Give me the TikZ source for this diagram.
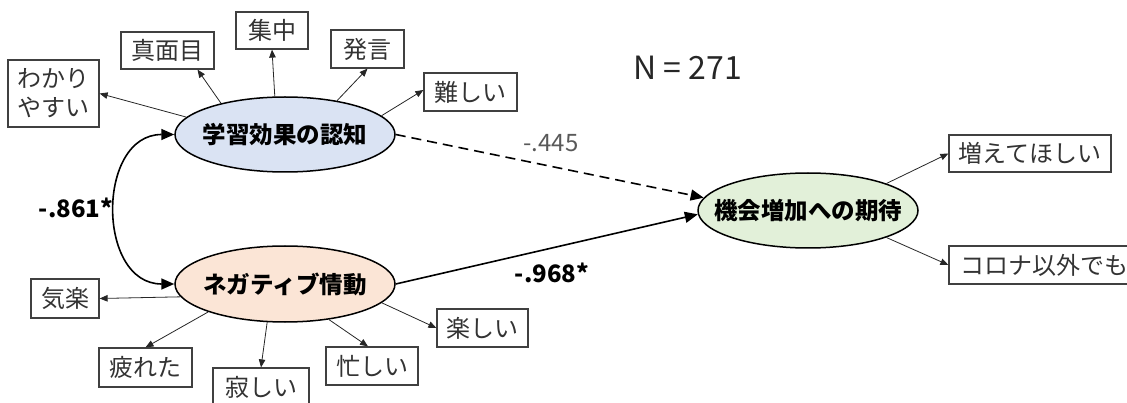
\documentclass[tikz,border=0pt]{standalone}
\usepackage{fontspec}
\setmainfont{Noto Sans CJK JP}
\usetikzlibrary{shapes.geometric,arrows.meta}
\definecolor{ebl}{HTML}{DAE3F3}
\definecolor{eor}{HTML}{FBE5D6}
\definecolor{egr}{HTML}{E2F0D9}
\definecolor{boxline}{HTML}{404040}
\definecolor{txt}{HTML}{333333}
\definecolor{lblgray}{HTML}{595959}
\begin{document}
\begin{tikzpicture}[x=1pt,y=-1pt,
  latent/.style={ellipse, draw=black, line width=1.5pt, minimum width=220pt, minimum height=75pt, inner sep=0pt},
  ltext/.style={font=\fontsize{23.5}{26}\selectfont\bfseries, inner sep=0pt},
  obs/.style={draw=boxline, line width=1.2pt, inner sep=0pt, text=txt, font=\fontsize{24}{29}\selectfont, align=center},
  thinarr/.style={-{Triangle[length=8pt,width=6.5pt]}, line width=0.8pt, black!85},
  mainarr/.style={-{Triangle[length=13pt,width=11pt]}, line width=1.6pt},
  biarr/.style={{Triangle[length=13pt,width=11pt]}-{Triangle[length=13pt,width=11pt]}, line width=1.6pt},
  coef/.style={font=\fontsize{24}{28}\selectfont, inner sep=0pt},
  coefbold/.style={font=\fontsize{24}{28}\selectfont\bfseries, inner sep=0pt}
]
\useasboundingbox (0,0) rectangle (1127,403);

% latent variables
\node[latent, fill=ebl] (e1) at (285,134.5) {};
\node[ltext] (e1t) at (e1) {学習効果の認知};
\node[latent, fill=eor, minimum height=76pt] (e2) at (285,284) {};
\node[ltext] (e2t) at (e2) {ネガティブ情動};
\node[latent, fill=egr] (e3) at (808,210.5) {};
\node[ltext] (e3t) at (e3) {機会増加への期待};

% observed variables
\node[obs, minimum width=91pt, minimum height=67pt] (wakari) at (53.5,93.5) {わかり\\やすい};
\node[obs, minimum width=93pt, minimum height=37pt] (majime) at (167.5,50.5) {真面目};
\node[obs, minimum width=72pt, minimum height=37pt] (shuchu) at (272,30.5) {集中};
\node[obs, minimum width=73pt, minimum height=38pt] (hatsugen) at (367.5,49) {発言};
\node[obs, minimum width=93pt, minimum height=38pt] (muzu) at (470.5,92) {難しい};

\node[obs, minimum width=68pt, minimum height=39pt] (kiraku) at (65,298.5) {気楽};
\node[obs, minimum width=93pt, minimum height=39pt] (tsuka) at (145.5,367.5) {疲れた};
\node[obs, minimum width=96pt, minimum height=39pt] (sabi) at (261,387.5) {寂しい};
\node[obs, minimum width=92pt, minimum height=38pt] (isog) at (372,366) {忙しい};
\node[obs, minimum width=91pt, minimum height=38pt] (tano) at (482.5,328) {楽しい};

\node[obs, minimum width=162pt, minimum height=37pt] (fuete) at (1030,153.5) {増えてほしい};
\node[obs, minimum width=186pt, minimum height=38pt, text width=186pt, align=left] (corona) at (1042,265) {\hspace*{11pt}コロナ以外でも};

% indicator arrows
\draw[thinarr] (e1.170) -- (wakari.east);
\draw[thinarr] (e1.154) -- ([xshift=30pt]majime.south);
\draw[thinarr] (e1.105) -- (shuchu.south);
\draw[thinarr] (e1.33) -- (hatsugen.south);
\draw[thinarr] (e1.11) -- ([yshift=2pt]muzu.west);

\draw[thinarr] (e2.187) -- (kiraku.east);
\draw[thinarr] (e2.200) -- (tsuka.north);
\draw[thinarr] (e2.-115) -- (sabi.north);
\draw[thinarr] (e2.-39) -- ([xshift=-4pt]isog.north);
\draw[thinarr] (e2.-11) -- (tano.west);

\draw[thinarr] (e3.19) -- (fuete.west);
\draw[thinarr] (e3.-19) -- (corona.west);

% structural paths
\draw[mainarr, dash pattern=on 10pt off 6pt] (e1.east) -- (e3.173);
\draw[mainarr] (e2.east) -- (e3.182);
\draw[biarr] (e1.west) .. controls +(-78,0) and +(-78,0) .. (e2.west);

% labels
\node[coef, text=lblgray] (l445) at (551,143) {-.445};
\node[coefbold] (l861) at (76,208) {-.861*};
\node[coefbold] (l968) at (552,273) {-.968*};
\node[font=\fontsize{32}{36}\selectfont, text=black!85, inner sep=0pt] (nn) at (687.5,68) {N = 271};
\end{tikzpicture}
\end{document}
